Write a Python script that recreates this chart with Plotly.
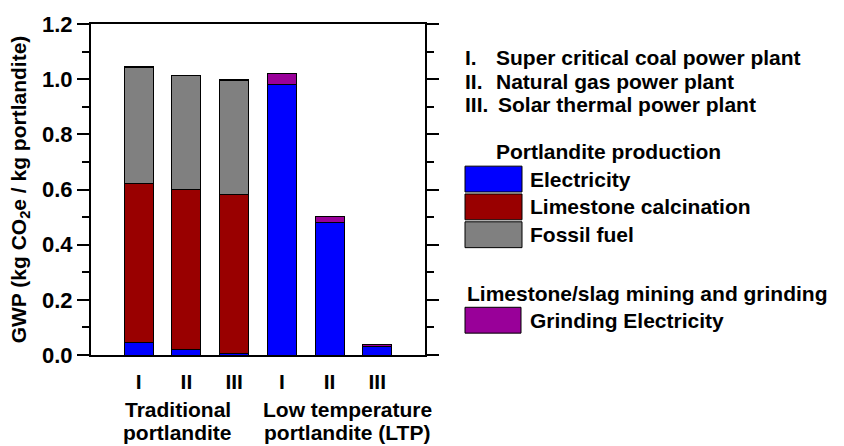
import plotly.graph_objects as go

# Bar categories: three power sources for each production route
categories = ["Traditional I", "Traditional II", "Traditional III",
              "LTP I", "LTP II", "LTP III"]
tick_labels = ["I", "II", "III", "I", "II", "III"]

# GWP contributions (kg CO2e / kg portlandite)
electricity = [0.045, 0.020, 0.006, 0.982, 0.482, 0.032]
limestone_calcination = [0.578, 0.579, 0.577, None, None, None]
fossil_fuel = [0.419, 0.413, 0.411, None, None, None]
grinding_electricity = [0.003, 0.003, 0.003, 0.040, 0.021, 0.006]

FONT = "Liberation Sans, Arial, sans-serif"
FS = 21
BLUE = "#0000FF"
RED = "#990000"
GREY = "#808080"
PURPLE = "#990099"

# Plot-area geometry in pixels (used to place the key beside the axes)
W, H = 844, 446
L, R, T, B = 91, 419, 22, 91
PW, PH = W - L - R, H - T - B


def px(x):
    return (x - L) / PW


def py(y):
    return (H - B - y) / PH


def bold(size=FS):
    return dict(family=FONT, size=size, color="black", weight="bold")


fig = go.Figure()
for name, vals, color in [
    ("Electricity", electricity, BLUE),
    ("Limestone calcination", limestone_calcination, RED),
    ("Fossil fuel", fossil_fuel, GREY),
    ("Grinding Electricity", grinding_electricity, PURPLE),
]:
    fig.add_trace(go.Bar(
        x=categories, y=vals, name=name,
        marker=dict(color=color, line=dict(color="black", width=1)),
        showlegend=False,
    ))

annotations = []
shapes = []


def text(x, y, s, anchor="left", xref="paper"):
    annotations.append(dict(
        x=px(x) if xref == "paper" else x, y=py(y),
        xref=xref, yref="paper", text=s,
        showarrow=False, xanchor=anchor, yanchor="middle",
        font=bold(),
    ))


# Power plant key
for num, label, y, tx in [("I.", "Super critical coal power plant", 56, 494),
                          ("II.", "Natural gas power plant", 80, 494),
                          ("III.", "Solar thermal power plant", 103, 496)]:
    text(463, y, num)
    text(tx, y, label)

# Portlandite production key
text(494, 150, "Portlandite production")
for label, color, y0 in [("Electricity", BLUE, 165),
                         ("Limestone calcination", RED, 193),
                         ("Fossil fuel", GREY, 221)]:
    shapes.append(dict(type="rect", xref="paper", yref="paper",
                       x0=px(465), x1=px(522), y0=py(y0), y1=py(y0 + 26),
                       fillcolor=color, line=dict(color="black", width=1)))
    text(528, y0 + 13, label)

# Mining and grinding key
text(465, 293, "Limestone/slag mining and grinding")
shapes.append(dict(type="rect", xref="paper", yref="paper",
                   x0=px(465), x1=px(521), y0=py(307), y1=py(333),
                   fillcolor=PURPLE, line=dict(color="black", width=1)))
text(528, 320, "Grinding Electricity")

# Group labels under the tick labels
for xc, lines in [(0.82, ["Traditional", "portlandite"]),
                  (4.37, ["Low temperature", "portlandite (LTP)"])]:
    for y, s in zip([410, 433], lines):
        text(xc, y, s, anchor="center", xref="x")

fig.update_layout(
    barmode="stack",
    bargap=0.39,
    width=W, height=H,
    margin=dict(l=L, r=R, t=T, b=B, pad=0),
    plot_bgcolor="white",
    paper_bgcolor="white",
    font=bold(),
    annotations=annotations,
    shapes=shapes,
    xaxis=dict(
        type="category",
        range=[-1, 6],
        tickvals=categories,
        ticktext=tick_labels,
        ticks="",
        showline=True, linecolor="black", linewidth=2, mirror=True,
        showgrid=False, zeroline=False,
        ticklabelstandoff=7,
        tickfont=bold(),
    ),
    yaxis=dict(
        range=[0, 1.2],
        dtick=0.2,
        tickformat=".1f",
        ticks="outside", ticklen=12, tickwidth=2, tickcolor="black",
        minor=dict(dtick=0.1, ticks="outside", ticklen=7, tickwidth=2,
                   tickcolor="black"),
        showline=True, linecolor="black", linewidth=2, mirror="ticks",
        showgrid=False, zeroline=False,
        tickfont=bold(22),
        title=dict(text="GWP (kg CO<sub>2</sub>e / kg portlandite)",
                   standoff=10,
                   font=bold()),
    ),
)

fig.write_html("out.html")
